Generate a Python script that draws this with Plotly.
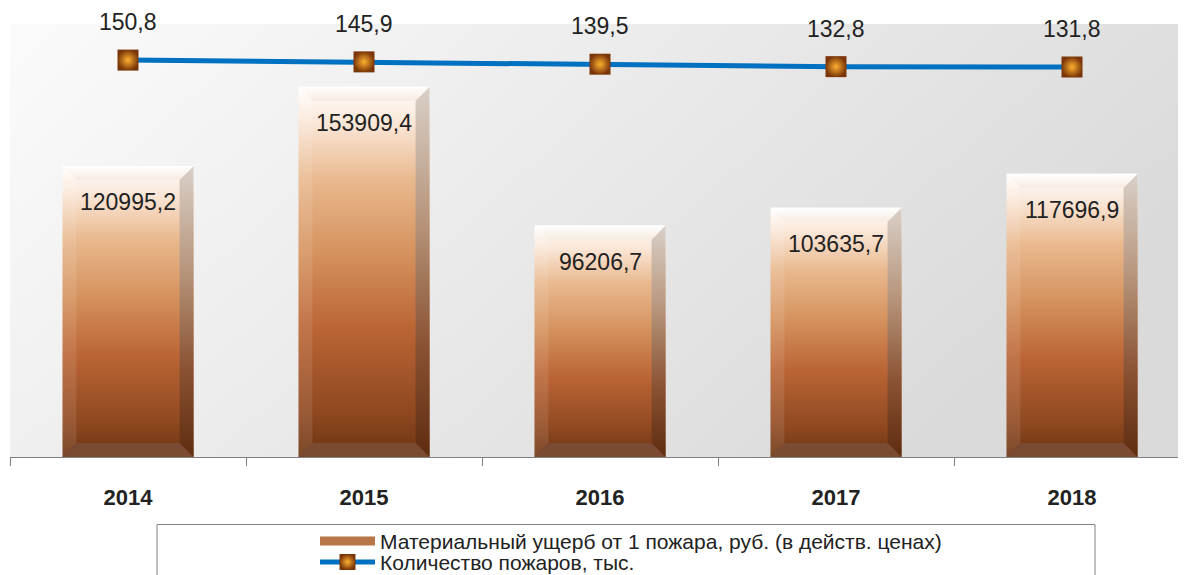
import base64
import plotly.graph_objects as go

# data
years = ["2014", "2015", "2016", "2017", "2018"]
damage = [120995.2, 153909.4, 96206.7, 103635.7, 117696.9]   # руб.
fires = [150.8, 145.9, 139.5, 132.8, 131.8]                 # тыс.

bar_name = "Материальный ущерб от 1 пожара, руб. (в действ. ценах)"
line_name = "Количество пожаров, тыс."

# geometry / style (page has an 8px body margin, compensated here)
W, H = 1186, 575
M_L, M_R, M_T, M_B = 2, 0, 16, 123
plot_w = W - M_L - M_R
plot_h = H - M_T - M_B
PAGE_X0, PAGE_BOTTOM = 10, 460      # plot area left / bottom on the page
y_max = 180000
y2_range = [-940, 250]
half_w = 0.2775          # half bar width (category units)
bev_x = 0.059            # bevel width in category units
bev_y = 14 * y_max / plot_h
FONT = "Liberation Sans, Arial, sans-serif"


def fmt(v):
    return f"{v:.1f}".replace(".", ",")


def px_x(px):
    return (px - PAGE_X0) / plot_w


def px_y(py):
    return (PAGE_BOTTOM - py) / plot_h


body_scale = [[0, "#6b3412"], [0.12, "#8f4820"], [0.35, "#bb6535"],
              [0.55, "#d5925e"], [0.75, "#e9b98f"], [0.9, "#fae6d6"],
              [1, "#ffffff"]]
right_scale = [[0, "#5e2c10"], [0.3, "#8a5232"], [0.65, "#b8977e"],
               [1, "#d9d0c8"]]
top_scale = [[0, "#f6ebe2"], [1, "#ffffff"]]

fig = go.Figure()

for i, v in enumerate(damage):
    l, r = i - half_w, i + half_w
    # body
    fig.add_trace(go.Scatter(
        x=[l, r, r, l, l], y=[0, 0, v, v, 0], mode="lines", fill="toself",
        line=dict(width=0), fillgradient=dict(type="vertical", colorscale=body_scale),
        showlegend=False, hoverinfo="skip"))
    # left bevel (slight highlight)
    fig.add_trace(go.Scatter(
        x=[l, l + bev_x, l + bev_x, l, l], y=[0, bev_y, v - bev_y, v, 0],
        mode="lines", fill="toself", line=dict(width=0),
        fillcolor="rgba(255,255,255,0.10)", showlegend=False, hoverinfo="skip"))
    # right bevel
    fig.add_trace(go.Scatter(
        x=[r, r - bev_x, r - bev_x, r, r], y=[0, bev_y, v - bev_y, v, 0],
        mode="lines", fill="toself", line=dict(width=0),
        fillgradient=dict(type="vertical", colorscale=right_scale),
        showlegend=False, hoverinfo="skip"))
    # top bevel
    fig.add_trace(go.Scatter(
        x=[l, r, r - bev_x, l + bev_x, l], y=[v, v, v - bev_y, v - bev_y, v],
        mode="lines", fill="toself", line=dict(width=0),
        fillgradient=dict(type="vertical", colorscale=top_scale),
        showlegend=False, hoverinfo="skip"))
    # bottom bevel
    fig.add_trace(go.Scatter(
        x=[l, r, r - bev_x, l + bev_x, l], y=[0, 0, bev_y, bev_y, 0],
        mode="lines", fill="toself", line=dict(width=0),
        fillcolor="#7b4a33", showlegend=False, hoverinfo="skip"))

# legend entry for the bars (thick band symbol)
fig.add_trace(go.Scatter(
    x=[None], y=[None], mode="lines", name=bar_name, legend="legend",
    line=dict(color="#b8764a", width=9), hoverinfo="skip"))

# line on secondary axis
fig.add_trace(go.Scatter(
    x=list(range(len(years))), y=fires, yaxis="y2", mode="lines+markers",
    name=line_name, legend="legend2", line=dict(color="#0070c0", width=5),
    marker=dict(symbol="square", size=21, color="#7a3608",
                gradient=dict(type="radial", color="#ffb030"),
                line=dict(width=0)),
    hoverinfo="skip"))

annotations = []
for i, v in enumerate(damage):
    annotations.append(dict(x=i, y=v, xref="x", yref="y", text=fmt(v),
                            showarrow=False, yshift=-36,
                            font=dict(size=23, color="#222222", family=FONT)))
for i, v in enumerate(fires):
    annotations.append(dict(x=i, y=v, xref="x", yref="y2", text=fmt(v),
                            showarrow=False, yshift=38,
                            font=dict(size=23, color="#222222", family=FONT)))

# plot-area background gradient
svg = ('<svg xmlns="http://www.w3.org/2000/svg" width="100" height="100" '
       'preserveAspectRatio="none"><defs><linearGradient id="g" x1="0" y1="0" '
       'x2="1" y2="0.4"><stop offset="0" stop-color="#fbfbfb"/>'
       '<stop offset="1" stop-color="#dadada"/></linearGradient></defs>'
       '<rect width="100" height="100" fill="url(#g)"/></svg>')
bg_src = "data:image/svg+xml;base64," + base64.b64encode(svg.encode()).decode()

n = len(years)
x_right = -0.5 + plot_w / 236

legend_common = dict(x=px_x(315), xanchor="left", yanchor="middle",
                     bgcolor="rgba(0,0,0,0)", itemwidth=55,
                     font=dict(size=21, family=FONT, color="#222222"))

fig.update_layout(
    width=W, height=H,
    margin=dict(l=M_L, r=M_R, t=M_T, b=M_B),
    paper_bgcolor="white", plot_bgcolor="white",
    font=dict(family=FONT, color="#222222"),
    images=[dict(source=bg_src, xref="paper", yref="paper", x=0, y=1,
                 sizex=1, sizey=1, sizing="stretch", layer="below")],
    xaxis=dict(range=[-0.5, x_right], tickvals=list(range(n)), ticktext=years,
               ticks="", showgrid=False, zeroline=False, showline=True,
               linecolor="#808080", linewidth=1, ticklabelstandoff=21,
               tickfont=dict(size=22, family=FONT, color="#222222", weight="bold"),
               minor=dict(tickvals=[k - 0.5 for k in range(n + 1)], ticks="outside",
                          ticklen=8, tickcolor="#808080", showgrid=False)),
    yaxis=dict(range=[0, y_max], visible=False, showgrid=False, zeroline=False),
    yaxis2=dict(range=y2_range, overlaying="y", side="right", visible=False,
                showgrid=False, zeroline=False),
    annotations=annotations,
    showlegend=True,
    legend=dict(y=px_y(545), **legend_common),
    legend2=dict(y=px_y(566), **legend_common),
    shapes=[dict(type="rect", xref="paper", yref="paper",
                 x0=px_x(157), x1=px_x(1095), y0=px_y(528), y1=px_y(620),
                 line=dict(color="#808080", width=1), fillcolor="rgba(0,0,0,0)")],
)

fig.write_html("out.html")
